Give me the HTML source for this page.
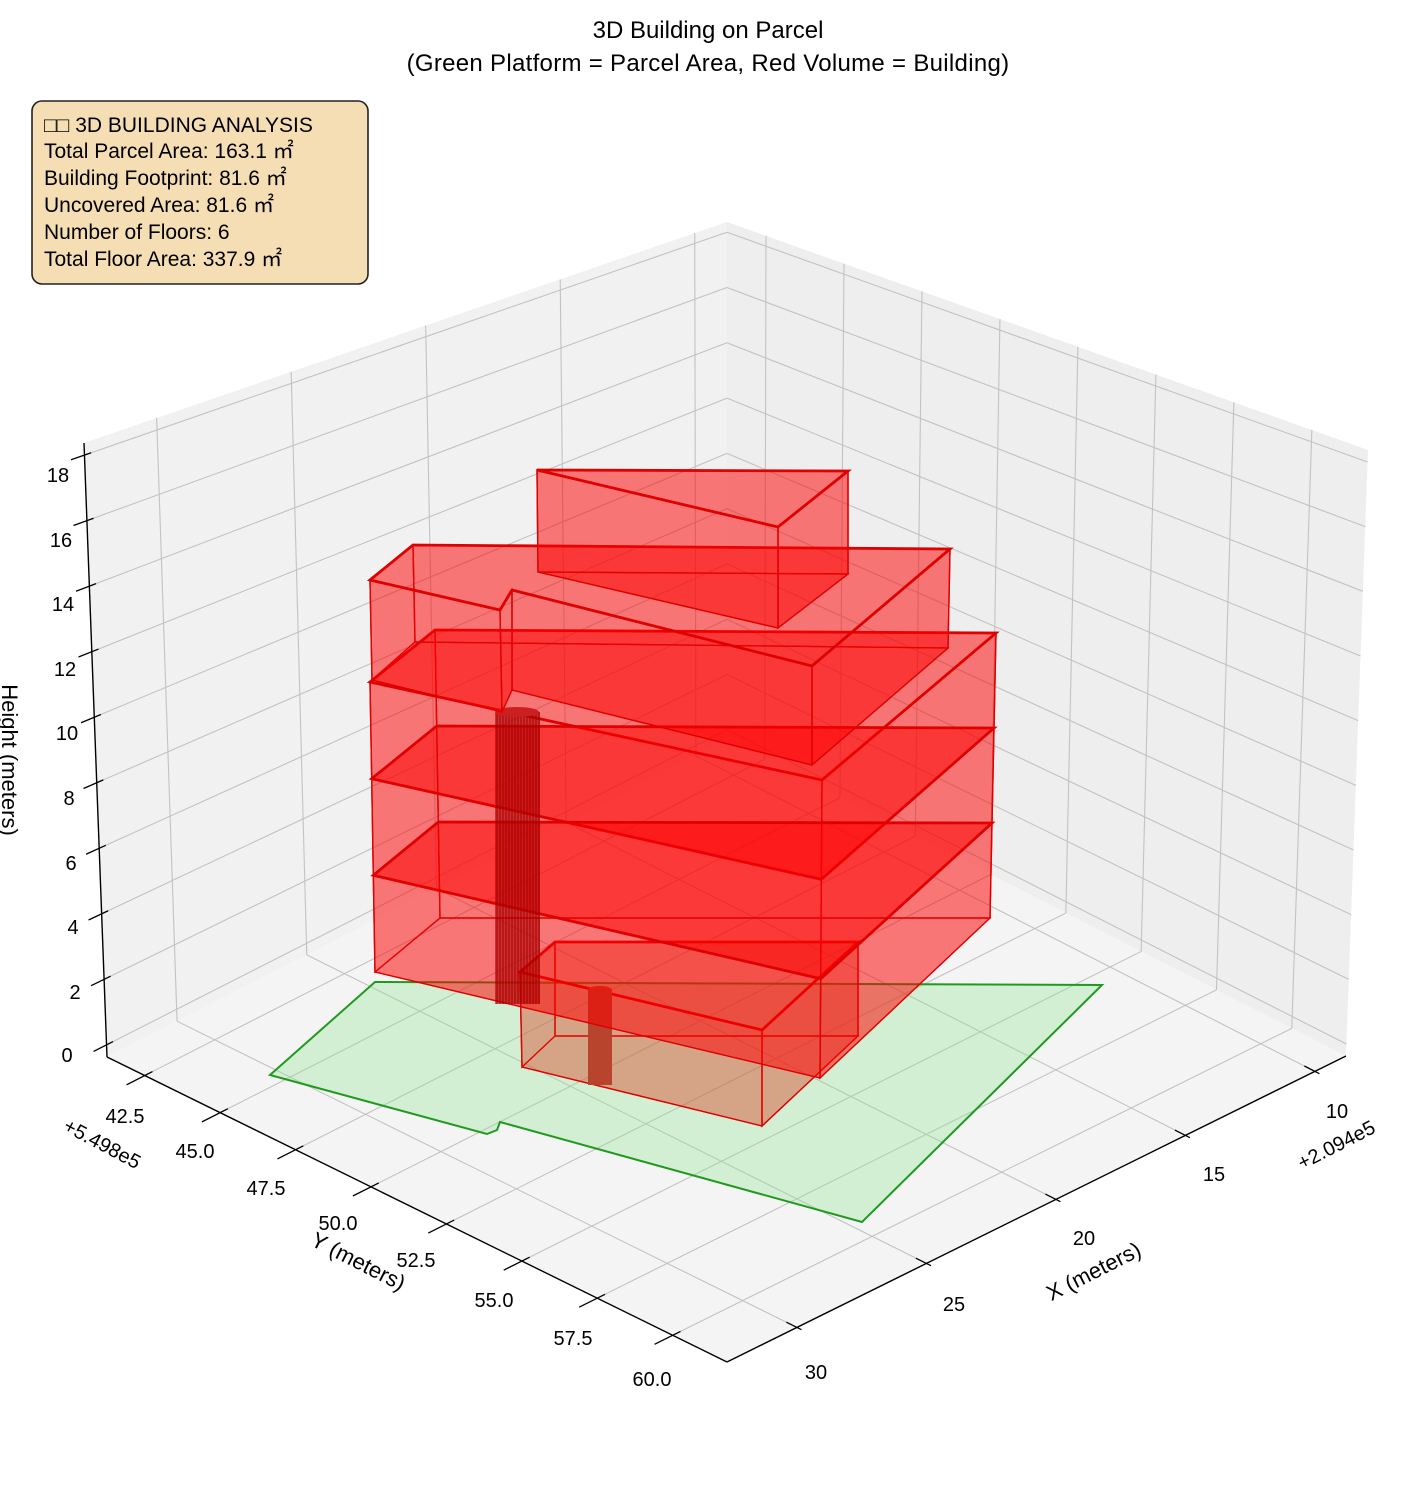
<!DOCTYPE html>
<html><head><meta charset="utf-8"><style>
body{margin:0;background:#fff;}
svg{display:block;font-family:"Liberation Sans","DejaVu Sans",sans-serif;}
</style></head><body>
<svg id="s" width="1416" height="1486" viewBox="0 0 1416 1486" xmlns="http://www.w3.org/2000/svg">
<g id="grid"></g>
<g id="bld"></g>
<g id="txt" fill="#000">
<text x="708" y="38" font-size="24" text-anchor="middle">3D Building on Parcel</text>
<text x="708" y="71" font-size="24" text-anchor="middle" letter-spacing="0.3">(Green Platform = Parcel Area, Red Volume = Building)</text>
<g font-size="20">
<text x="58" y="482" text-anchor="middle">18</text>
<text x="61" y="547" text-anchor="middle">16</text>
<text x="63" y="611" text-anchor="middle">14</text>
<text x="65" y="676" text-anchor="middle">12</text>
<text x="67" y="740" text-anchor="middle">10</text>
<text x="69" y="805" text-anchor="middle">8</text>
<text x="71" y="870" text-anchor="middle">6</text>
<text x="73" y="934" text-anchor="middle">4</text>
<text x="75" y="999" text-anchor="middle">2</text>
<text x="67" y="1062" text-anchor="middle">0</text>
<text x="125" y="1123" text-anchor="middle">42.5</text>
<text x="195" y="1158" text-anchor="middle">45.0</text>
<text x="266" y="1195" text-anchor="middle">47.5</text>
<text x="338" y="1230" text-anchor="middle">50.0</text>
<text x="416" y="1267" text-anchor="middle">52.5</text>
<text x="494" y="1307" text-anchor="middle">55.0</text>
<text x="573" y="1345" text-anchor="middle">57.5</text>
<text x="652" y="1386" text-anchor="middle">60.0</text>
<text x="1337" y="1118" text-anchor="middle">10</text>
<text x="1214" y="1181" text-anchor="middle">15</text>
<text x="1084" y="1245" text-anchor="middle">20</text>
<text x="954" y="1311" text-anchor="middle">25</text>
<text x="816" y="1379" text-anchor="middle">30</text>
<text transform="translate(62,1130) rotate(28)" font-size="20">+5.498e5</text>
<text transform="translate(1302,1170) rotate(-27)" font-size="20">+2.094e5</text>
</g>
<text transform="translate(2,760) rotate(90)" font-size="22" text-anchor="middle">Height (meters)</text>
<text transform="translate(355,1268) rotate(27)" font-size="22" text-anchor="middle">Y (meters)</text>
<text transform="translate(1097,1278) rotate(-27)" font-size="22" text-anchor="middle">X (meters)</text>
</g>
<g>
<rect x="32" y="101" width="336" height="183" rx="10" ry="10" fill="#f5deb3" stroke="#222" stroke-width="1.6"/>
<g font-size="21" fill="#000">
<text x="44" y="132">□□ 3D BUILDING ANALYSIS</text>
<text x="44" y="158">Total Parcel Area: 163.1 ㎡</text>
<text x="44" y="185">Building Footprint: 81.6 ㎡</text>
<text x="44" y="212">Uncovered Area: 81.6 ㎡</text>
<text x="44" y="239">Number of Floors: 6</text>
<text x="44" y="266">Total Floor Area: 337.9 ㎡</text>
</g>
</g>
</svg>
<script>
var NS="http://www.w3.org/2000/svg";
function el(p,t,a){var e=document.createElementNS(NS,t);for(var k in a)e.setAttribute(k,a[k]);p.appendChild(e);return e;}
var xmin=8.8,xmax=32.7,ymin=41.25,ymax=61.8,zmin=-0.37,zmax=18.37;
var C={b0:[727,740],l0:[107,1057],r0:[1346,1056],f0:[727,1362],b1:[727,222],l1:[84,443],r1:[1368,450],f1:[727,665]};
function M(x,y,z){var u=(x-xmin)/(xmax-xmin),v=(y-ymin)/(ymax-ymin),w=(z-zmin)/(zmax-zmin);
 function bl(a,b,c,d){return [a[0]*(1-u)*(1-v)+b[0]*u*(1-v)+c[0]*(1-u)*v+d[0]*u*v,a[1]*(1-u)*(1-v)+b[1]*u*(1-v)+c[1]*(1-u)*v+d[1]*u*v];}
 var p0=bl(C.b0,C.l0,C.r0,C.f0),p1=bl(C.b1,C.l1,C.r1,C.f1);
 return [p0[0]*(1-w)+p1[0]*w,p0[1]*(1-w)+p1[1]*w];}
var g=document.getElementById("grid");
function poly(p,pts,a){a.points=pts.map(function(q){return q[0].toFixed(1)+","+q[1].toFixed(1)}).join(" ");return el(p,"polygon",a);}
function line(p,a,b,s,w){el(p,"line",{x1:a[0],y1:a[1],x2:b[0],y2:b[1],stroke:s,"stroke-width":w});}
poly(g,[M(xmin,ymin,zmin),M(xmax,ymin,zmin),M(xmax,ymin,zmax),M(xmin,ymin,zmax)],{fill:"#f1f1f1"});
poly(g,[M(xmin,ymin,zmin),M(xmin,ymax,zmin),M(xmin,ymax,zmax),M(xmin,ymin,zmax)],{fill:"#eeeeee"});
poly(g,[M(xmin,ymin,zmin),M(xmax,ymin,zmin),M(xmax,ymax,zmin),M(xmin,ymax,zmin)],{fill:"#f4f4f4"});
var gc="#c2c2c2";
var xt=[10,15,20,25,30],yt=[42.5,45,47.5,50,52.5,55,57.5,60],zt=[0,2,4,6,8,10,12,14,16,18];
xt.forEach(function(x){line(g,M(x,ymin,zmin),M(x,ymin,zmax),gc,1.1);line(g,M(x,ymin,zmin),M(x,ymax,zmin),gc,1.1);
 line(g,M(x,ymax+0.15,zmin),M(x,ymax-0.35,zmin),"#000",1.3);});
yt.forEach(function(y){line(g,M(xmin,y,zmin),M(xmin,y,zmax),gc,1.1);line(g,M(xmin,y,zmin),M(xmax,y,zmin),gc,1.1);
 line(g,M(xmax+0.7,y,zmin),M(xmax-0.3,y,zmin),"#000",1.3);});
zt.forEach(function(z){line(g,M(xmin,ymin,z),M(xmax,ymin,z),gc,1.1);line(g,M(xmin,ymin,z),M(xmin,ymax,z),gc,1.1);
 line(g,M(xmax+0.5,ymin,z),M(xmax-0.25,ymin,z),"#000",1.3);});
line(g,M(xmax,ymin,zmin),M(xmax,ymin,zmax),"#000",1.4);
line(g,M(xmax,ymin,zmin),M(xmax,ymax,zmin),"#000",1.4);
line(g,M(xmin,ymax,zmin),M(xmax,ymax,zmin),"#000",1.4);

var b=document.getElementById("bld");
poly(b,[[270,1075],[375,982],[1102,985],[862,1222],[500,1122],[497,1130],[487,1134]],{fill:"rgba(150,230,150,0.35)",stroke:"#1f9a1f","stroke-width":2});
var F="rgba(255,0,0,0.3)",S="#e00000";
function box(top,bot,sw,fill){
 var n=top.length;
 poly(b,bot,{fill:fill,stroke:S,"stroke-width":1.2});
 for(var i=0;i<n;i++){var j=(i+1)%n;poly(b,[top[i],top[j],bot[j],bot[i]],{fill:fill,stroke:S,"stroke-width":1.4});}
 poly(b,top,{fill:fill,stroke:S,"stroke-width":sw});
}
box([[520,972],[555,942],[858,942],[762,1030]],[[522,1067],[555,1036],[858,1036],[762,1126]],2.8,"rgba(220,50,20,0.22)");
el(b,"rect",{x:588,y:990,width:24,height:95,fill:"#b8442e"});
el(b,"ellipse",{cx:600,cy:990,rx:12,ry:4,fill:"#c0402a"});
function lerp(a,c,t){return [a[0]+(c[0]-a[0])*t,a[1]+(c[1]-a[1])*t];}
var AT=[[370,682],[435,630],[996,633],[822,780]],AB=[[375,972],[440,918],[990,918],[820,1078]];
for(var k=0;k<3;k++){var t1=k/3,t2=(k+1)/3;
 box(AT.map(function(p,i){return lerp(p,AB[i],t1)}),AT.map(function(p,i){return lerp(p,AB[i],t2)}),2.8,F);}
el(b,"rect",{x:495,y:712,width:45,height:292,fill:"rgba(180,0,0,0.6)"});
for(var xx=497;xx<=539;xx+=3)line(b,[xx,712],[xx,1004],"#a00000",1);
el(b,"ellipse",{cx:517,cy:712,rx:22,ry:5,fill:"#cc2020"});
var CT=[[370,580],[413,545],[950,549],[812,666],[512,590],[500,610]];
var CB=[[372,680],[415,642],[948,648],[812,765],[512,690],[502,712]];
box(CT,CB,2.8,F);
box([[537,470],[848,471],[778,527]],[[538,572],[848,574],[778,628]],2.8,F);
</script>
</body></html>
